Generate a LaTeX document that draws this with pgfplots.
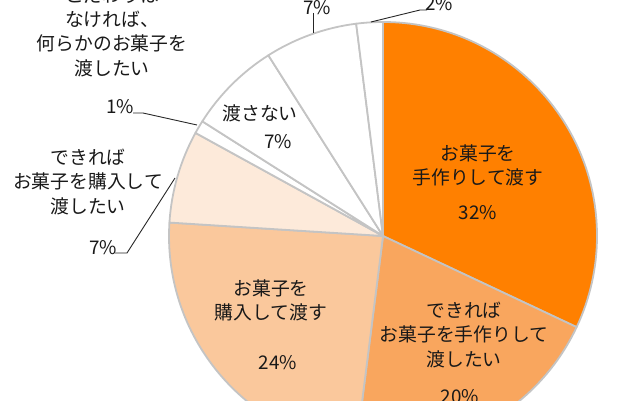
\documentclass[border=0pt]{standalone}
\usepackage{pgfplots}
\pgfplotsset{compat=1.18}
\usepackage{pgfplotstable}
\usepackage{fontspec}
\newfontfamily\cjk{Noto Sans CJK JP}

% slice colours, clockwise from 12 o'clock
\definecolor{slice0}{RGB}{255,128,0}
\definecolor{slice1}{RGB}{249,166,94}
\definecolor{slice2}{RGB}{250,200,156}
\definecolor{slice3}{RGB}{253,234,218}
\definecolor{slice4}{RGB}{255,255,255}
\definecolor{slice5}{RGB}{255,255,255}
\definecolor{slice6}{RGB}{255,255,255}
\definecolor{slice7}{RGB}{255,255,255}
\definecolor{edge}{RGB}{196,196,196}
\definecolor{txt}{RGB}{25,25,25}

\tikzset{
    lab/.style={font=\cjk\fontsize{9.4}{12.2}\selectfont, align=center, text=txt, inner sep=0pt},
    lead/.style={draw=black!85, line width=0.45pt},
}

\pgfplotstableread{
pct
32
20
24
7
1
7
7
2
}\piedata

\begin{document}
\begin{tikzpicture}
\path[use as bounding box] (0,0) rectangle (320pt,200pt);
\clip (0,0) rectangle (320pt,200pt);
\begin{axis}[
    at={(0,0)}, anchor=south west,
    x=0.5pt, y=0.5pt,
    xmin=0, xmax=640, ymin=0, ymax=400,
    hide axis, clip=false,
    ]
    % wedges from the table
    \pgfplotstablegetrowsof{\piedata}
    \pgfmathtruncatemacro\lastrow{\pgfplotsretval-1}
    \def\cum{0}
    \pgfplotsforeachungrouped \k in {0,...,\lastrow}{%
        \pgfplotstablegetelem{\k}{pct}\of\piedata
        \let\v\pgfplotsretval
        \pgfmathsetmacro\va{90-3.6*\cum}
        \pgfmathsetmacro\vb{90-3.6*(\cum+\v)}
        \pgfmathsetmacro\cum{\cum+\v}
        \edef\temp{\noexpand\filldraw[fill=slice\k, draw=edge, line width=0.9pt, line join=round]
            (axis cs:383,164) -- ++(\va:107pt) arc[start angle=\va, end angle=\vb, radius=107pt] -- cycle;}
        \temp
    }

    % labels inside
    \node[lab] at (axis cs:478,234.5) {お菓子を\\手作りして渡す};
    \node[lab] at (axis cs:478,187) {32\%};
    \node[lab] at (axis cs:464,65) {できれば\\お菓子を手作りして\\渡したい};
    \node[lab] at (axis cs:460,3) {20\%};
    \node[lab] at (axis cs:271,99.5) {お菓子を\\購入して渡す};
    \node[lab] at (axis cs:278,37) {24\%};
    \node[lab] at (axis cs:260,287) {渡さない};
    \node[lab] at (axis cs:278,258) {7\%};

    % labels outside, with leader lines
    \node[lab] at (axis cs:88,218) {できれば\\お菓子を購入して\\渡したい};
    \node[lab] at (axis cs:103,152) {7\%};
    \draw[lead] (axis cs:115,147) -- (axis cs:127,147) -- (axis cs:175,222);
    \node[lab] at (axis cs:120,293) {1\%};
    \draw[lead] (axis cs:133,287) -- (axis cs:143,287) -- (axis cs:197,275);
    \node[lab] at (axis cs:112,368) {こだわりは\\なければ、\\何らかのお菓子を\\渡したい};
    \node[lab] at (axis cs:317,392) {7\%};
    \draw[lead] (axis cs:313,387) -- (axis cs:313,367);
    \node[lab] at (axis cs:439,396) {2\%};
    \draw[lead] (axis cs:371,378) -- (axis cs:420,390) -- (axis cs:427,390);
\end{axis}
\end{tikzpicture}
\end{document}
